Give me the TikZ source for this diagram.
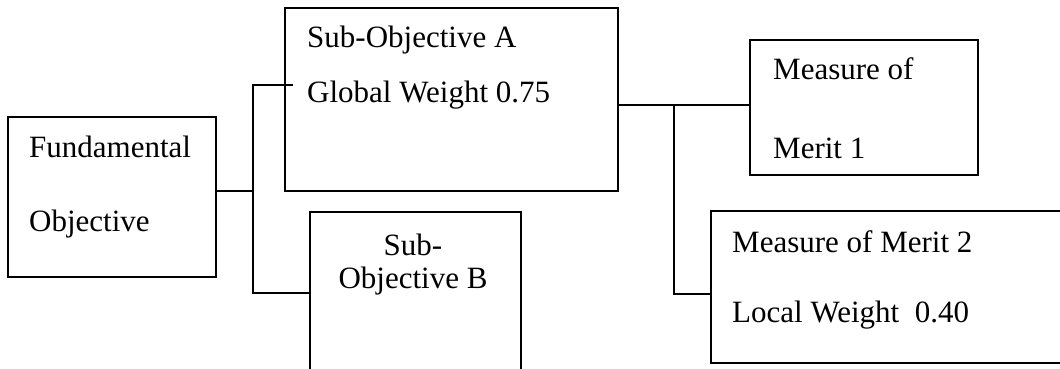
\documentclass[tikz,border=0pt]{standalone}
\usepackage{fontspec}
\setmainfont{Liberation Serif}
\begin{document}
\begin{tikzpicture}[x=1pt,y=-1pt,
  box/.style={draw, line width=1.6pt, rectangle, inner sep=0pt, outer sep=0pt, anchor=north west},
  txt/.style={anchor=base west, inner sep=0pt, font=\fontsize{31}{37}\selectfont},
  ctxt/.style={anchor=base, inner sep=0pt, font=\fontsize{31}{37}\selectfont},
  wire/.style={line width=1.6pt}]
\useasboundingbox (0,0) rectangle (1060,368);
\clip (0,0) rectangle (1060,368);
% boxes
\node[box, minimum width=208pt, minimum height=160pt] (fund) at (8,117) {};
\node[box, minimum width=333pt, minimum height=183pt] (subA) at (285,8) {};
\node[box, minimum width=211pt, minimum height=180pt] (subB) at (310,212) {};
\node[box, minimum width=228pt, minimum height=135pt] (mom1) at (750,40) {};
\node[box, minimum width=370pt, minimum height=152pt] (mom2) at (711,211) {};
% texts
\node[txt] (t1) at (29,157) {Fundamental};
\node[txt] (t2) at (29,231) {Objective};
\node[txt] (t3) at (307,47) {Sub-Objective A};
\node[txt] (t4) at (307,102) {Global Weight 0.75};
\node[ctxt] (t5) at (413,255) {Sub-};
\node[ctxt] (t6) at (413,288) {Objective B};
\node[txt] (t7) at (773,79) {Measure of};
\node[txt] (t8) at (773,158) {Merit 1};
\node[txt] (t9) at (732,252) {Measure of Merit 2};
\node[txt] (t10) at (732,322) {Local Weight\ \ 0.40};
% connectors
\coordinate (j1) at (253,191);
\coordinate (j1top) at (253,85);
\coordinate (j1bot) at (253,293);
\coordinate (j2top) at (674,105);
\coordinate (j2bot) at (674,294);
\draw[wire] (fund.east|-j1) -- (j1);
\draw[wire] ([xshift=8pt]subA.west|-j1top) -- (j1top) -- (j1bot) -- (subB.west|-j1bot);
\draw[wire] (subA.east|-j2top) -- (mom1.west|-j2top);
\draw[wire] (j2top) -- (j2bot) -- (mom2.west|-j2bot);
\end{tikzpicture}
\end{document}
